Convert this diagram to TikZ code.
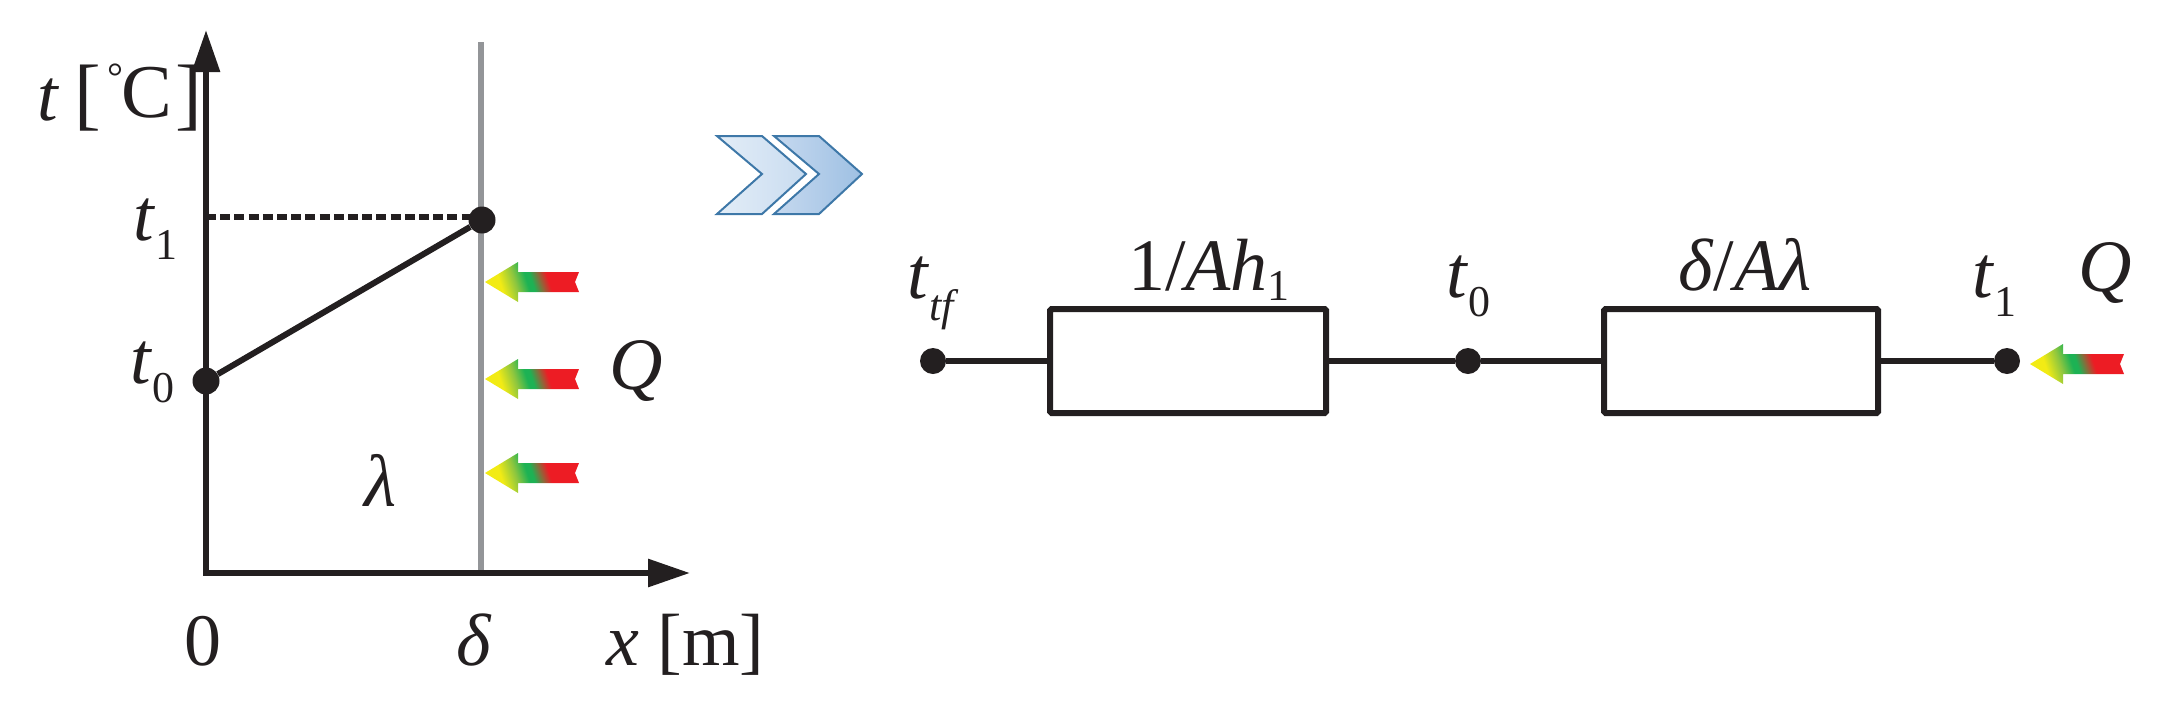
\documentclass[tikz,border=0pt]{standalone}
\usepackage{fontspec}
\setmainfont{Liberation Serif}
\usetikzlibrary{arrows.meta,calc}
\definecolor{ink}{HTML}{231F20}
\definecolor{wallgrey}{HTML}{939598}
\definecolor{chev}{HTML}{3E78A8}
\definecolor{hy}{HTML}{F2EB14}
\definecolor{hl}{HTML}{8DC63F}
\definecolor{hg}{HTML}{1DB254}
\definecolor{hb}{HTML}{8A6A3A}
\definecolor{hr}{HTML}{ED1C24}
\definecolor{chA}{HTML}{E3EDF7}
\definecolor{chB}{HTML}{C9DCF0}
\definecolor{chC}{HTML}{C6D9EF}
\definecolor{chD}{HTML}{9EC0E3}
\pgfdeclarehorizontalshading{heatarrow}{100bp}{
 color(0bp)=(hy);
 color(31bp)=(hy);
 color(40bp)=(hl);
 color(47bp)=(hg);
 color(50bp)=(hg);
 color(55bp)=(hb);
 color(60bp)=(hr);
 color(100bp)=(hr)}
\newcommand{\bigtype}{\fontsize{74}{74}\selectfont}
\newcommand{\tsub}[1]{\textit{t}\raisebox{-19pt}{\fontsize{44}{44}\selectfont #1}}
\newcommand{\heatarrow}[2]{%
 \path[shading=heatarrow,shading angle=18] (#1,#2) -- (#1+33,#2-20) -- (#1+33,#2-10) -- (#1+94,#2-10) -- (#1+90,#2) -- (#1+94,#2+10) -- (#1+33,#2+10) -- (#1+33,#2+20) -- cycle;}
\tikzset{
 heavy/.style={draw=ink,line width=6pt},
 axisline/.style={heavy,-{Triangle[length=42pt,width=27pt]}},
 pointdot/.style={circle,fill=ink,inner sep=0pt,minimum size=27pt},
 resistor/.style={rectangle,heavy,rounded corners=1.5pt,inner sep=0pt,minimum height=104pt},
 lab/.style={anchor=base west,inner sep=0pt,text=ink,font=\bigtype},
 chevron/.style={draw=chev,line width=2pt}
}
\begin{document}
\begin{tikzpicture}[x=1pt,y=-1pt]
\useasboundingbox (0,0) rectangle (2169,705);
% left chart
\coordinate (origin) at (206,573);
\coordinate (ytip) at (206,30);
\coordinate (xtip) at (690,573);
\coordinate (walltop) at (481,42);
\coordinate (wallbot) at (481,573);
\coordinate (t1mark) at (206,217);
\draw[wallgrey,line width=6pt] (walltop) -- (wallbot);
\draw[axisline] (origin) -- (ytip);
\draw[axisline] ($(origin)+(-3,0)$) -- (xtip);
\node[pointdot] (p0) at (206,381) {};
\node[pointdot] (p1) at (482,220) {};
\draw[heavy] (p0) -- (p1);
\draw[draw=ink,line width=5.5pt,dash pattern=on 10pt off 4.2pt] (t1mark) -- (p1.center |- t1mark);
\heatarrow{485}{282}
\heatarrow{485}{379}
\heatarrow{485}{473}
\node[lab] (ylabel) at (37,120) {\textit{t}};
\node[lab] (yunit) at (74,120.5) {\fontsize{80}{80}\selectfont [\kern6.4pt\raisebox{30pt}{\fontsize{40}{40}\selectfont\textdegree}\kern-2pt\raisebox{3.5pt}{\fontsize{76}{76}\selectfont C}\kern3.7pt]};
\node[lab] (lt1) at (133,240) {\tsub{1}};
\node[lab] (lt0) at (130,383) {\tsub{0}};
\node[lab] (lzero) at (184,665) {0};
\node[lab] (ldelta) at (456,665) {\textit{δ}};
\node[lab] (lx) at (606,665) {\textit{x} [m]};
\node[lab] (lQ) at (609,389) {\textit{Q}};
\node[lab] (llam) at (364,506) {\textit{λ}};
% chevrons
\path[chevron,left color=chA,middle color=chA,right color=chB] (717,136) -- (762,136) -- (806,174) -- (762,214) -- (717,214) -- (762,174) -- cycle;
\path[chevron,left color=chC,middle color=chD,right color=chD] (774,136) -- (819,136) -- (862,174) -- (819,214) -- (774,214) -- (819,174) -- cycle;
% network
\node[pointdot,minimum size=26pt] (ntf) at (933,361) {};
\node[resistor,minimum width=276pt] (r1) at (1188,361) {};
\node[pointdot,minimum size=26pt] (n0) at (1468,361) {};
\node[resistor,minimum width=274pt] (r2) at (1741,361) {};
\node[pointdot,minimum size=26pt] (n1) at (2007,361) {};
\draw[heavy] (ntf) -- (r1);
\draw[heavy] (r1) -- (n0);
\draw[heavy] (n0) -- (r2);
\draw[heavy] (r2) -- (n1);
\heatarrow{2030}{364}
\node[lab] (ltf) at (907,298) {\textit{t}\raisebox{-22pt}{\fontsize{44}{44}\selectfont\textit{tf}}};
\node[lab] (ln0) at (1446,297) {\tsub{0}};
\node[lab] (ln1) at (1972,297) {\tsub{1}};
\node[lab] (lQ2) at (2078,291) {\textit{Q}};
\node[lab] (lr1) at (1128,290) {1/\textit{Ah}\raisebox{-10pt}{\fontsize{44}{44}\selectfont 1}};
\node[lab] (lr2) at (1678,290) {\textit{δ}/\textit{Aλ}};
\end{tikzpicture}
\end{document}
